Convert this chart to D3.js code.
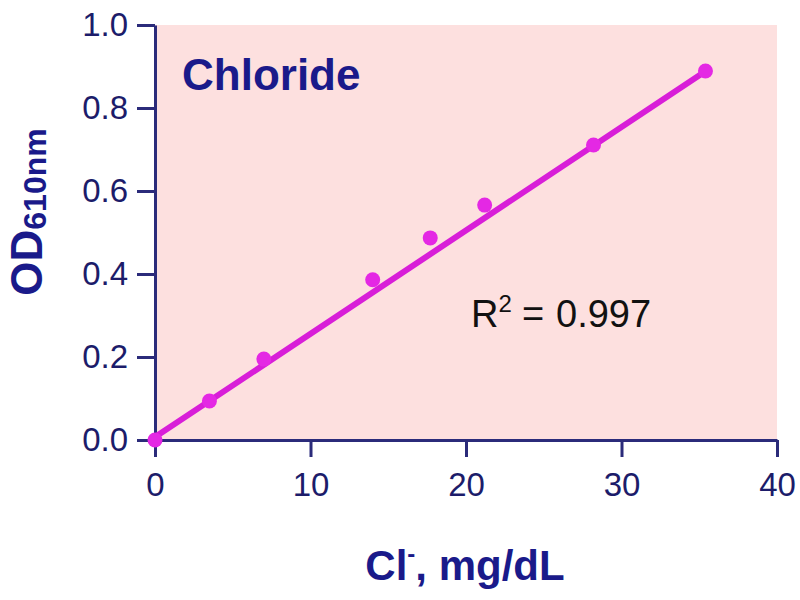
<!DOCTYPE html>
<html>
<head>
<meta charset="utf-8">
<script src="https://cdn.jsdelivr.net/npm/d3@7/dist/d3.min.js"></script>
<style>
  html, body { margin: 0; padding: 0; background: #ffffff; }
  svg { display: block; }
  text { font-family: "Liberation Sans", Arial, sans-serif; white-space: pre; }
</style>
</head>
<body>
<svg id="chart" width="800" height="600"></svg>
<script>
// Data
const concentration = [0, 3.5, 7.0, 14.0, 17.7, 21.2, 28.2, 35.4];      // Cl-, mg/dL
const od610 = [0.0, 0.094, 0.195, 0.386, 0.487, 0.566, 0.711, 0.889];
// fitted line as drawn in the reference: [intercept, slope]
const fitLine = [0.007, 0.0249];
const xTicks = [0, 10, 20, 30, 40];
const yTicks = [0.0, 0.2, 0.4, 0.6, 0.8, 1.0];
const titleText = "Chloride";
const r2Text = "0.997";

const navy = "#1c1c6a";
const axisColor = "#2b2b7a";
const lineColor = "#d81ed8";
const dotColor = "#e428e4";

const svg = d3.select("#chart");
const L = 155, R = 777, T = 25, B = 440;

const x = d3.scaleLinear().domain([0, 40]).range([L, R]);
const y = d3.scaleLinear().domain([0, 1]).range([B, T]);

// plot background
svg.append("rect")
  .attr("x", L).attr("y", T)
  .attr("width", R - L).attr("height", B - T)
  .attr("fill", "#fde0df");

// axes
const xAxis = d3.axisBottom(x).tickValues(xTicks).tickFormat(d3.format("d"))
  .tickSize(17).tickSizeOuter(0).tickPadding(16);
const yAxis = d3.axisLeft(y).tickValues(yTicks).tickFormat(d3.format(".1f"))
  .tickSize(18).tickSizeOuter(0).tickPadding(9);

const gx = svg.append("g").attr("transform", `translate(0,${B})`).call(xAxis);
const gy = svg.append("g").attr("transform", `translate(${L},0)`).call(yAxis);

[gx, gy].forEach(g => {
  g.select(".domain").attr("stroke", axisColor).attr("stroke-width", 3);
  g.selectAll(".tick line").attr("stroke", axisColor).attr("stroke-width", 3);
  g.selectAll(".tick text")
    .attr("fill", navy)
    .style("font-family", "'Liberation Sans', Arial, sans-serif")
    .style("font-size", "33px");
});

// fitted line
const xMin = d3.min(concentration), xMax = d3.max(concentration);
const fit = v => fitLine[0] + fitLine[1] * v;
svg.append("line")
  .attr("x1", x(xMin)).attr("y1", y(fit(xMin)))
  .attr("x2", x(xMax)).attr("y2", y(fit(xMax)))
  .attr("stroke", lineColor).attr("stroke-width", 6)
  .attr("stroke-linecap", "round");

// points
svg.append("g").selectAll("circle")
  .data(concentration.map((c, i) => [c, od610[i]]))
  .join("circle")
  .attr("cx", d => x(d[0])).attr("cy", d => y(d[1]))
  .attr("r", 7.5)
  .attr("fill", dotColor);

// title
svg.append("text")
  .attr("x", 182).attr("y", 90)
  .attr("fill", "#1a1a8a")
  .style("font-size", "44px").style("font-weight", "bold")
  .text(titleText);

// R^2 annotation
const r2 = svg.append("text")
  .attr("x", 471).attr("y", 327)
  .attr("fill", "#111111")
  .style("font-size", "38px");
r2.append("tspan").text("R");
r2.append("tspan").attr("dy", -15).style("font-size", "24px").text("2");
r2.append("tspan").attr("dy", 15).attr("x", 522).text("=");
r2.append("tspan").attr("x", 556).text(r2Text);

// x-axis label
const xl = svg.append("text")
  .attr("x", 465).attr("y", 580)
  .attr("text-anchor", "middle")
  .attr("fill", "#1a1a8a")
  .style("font-size", "42px").style("font-weight", "bold");
xl.append("tspan").text("Cl");
xl.append("tspan").attr("dy", -18).style("font-size", "24px").text("-");
xl.append("tspan").attr("dy", 18).text(", mg/dL");

// y-axis label
const yl = svg.append("text")
  .attr("transform", "translate(42,212) rotate(-90)")
  .attr("text-anchor", "middle")
  .attr("fill", "#1a1a8a")
  .style("font-size", "44px").style("font-weight", "bold");
yl.append("tspan").text("OD");
yl.append("tspan").attr("dy", 4).style("font-size", "32px").text("610nm");
</script>
</body>
</html>
